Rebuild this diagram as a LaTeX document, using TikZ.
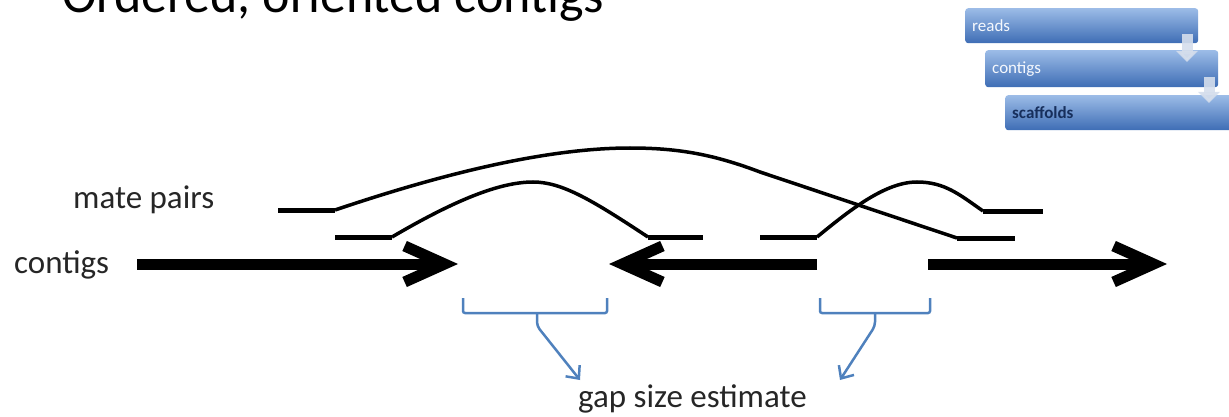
\documentclass[tikz,border=0pt]{standalone}
\usepackage{fontspec}
\setmainfont{Carlito}
\usetikzlibrary{arrows.meta}
\definecolor{gapblue}{HTML}{4F81BD}
\definecolor{boxtop}{HTML}{9CBCE7}
\definecolor{boxbot}{HTML}{3E6DB5}
\definecolor{navy}{HTML}{172F5C}
\definecolor{downarr}{HTML}{D5DEEC}
\begin{document}
\begin{tikzpicture}[x=1pt,y=-1pt,
  lbl/.style={font=\fontsize{33}{40}\selectfont, anchor=base west, inner sep=0pt, text=black!85},
  ttl/.style={font=\fontsize{52}{60}\selectfont, anchor=base west, inner sep=0pt},
  contig/.style={line width=11pt, -{Straight Barb[length=40pt,width=36pt]}},
  readseg/.style={line width=5pt},
  mate/.style={line width=3.5pt},
  gapbr/.style={draw=gapblue, line width=2.5pt, rounded corners=2pt},
  gaparr/.style={draw=gapblue, line width=2.5pt, rounded corners=4pt, -{Straight Barb[length=10pt,width=18pt]}},
  stepbox/.style={rounded corners=3pt, top color=boxtop, bottom color=boxbot, draw=none,
     anchor=north west, align=left, inner xsep=7pt, inner ysep=0pt,
     font=\fontsize{17}{20}\selectfont},
  downarrow/.style={draw=downarr, line width=11pt, opacity=0.9, -{Triangle[length=11pt,width=21pt]}}
]
\useasboundingbox (0,0) rectangle (1229,417);
\clip (0,0) rectangle (1229,417);

% title (cut at top)
\node[ttl] (dash) at (12,13) {–};
\node[ttl] (title) at (62,13) {Ordered, oriented contigs};

% labels
\node[lbl] (mplbl) at (73,208) {mate pairs};
\node[lbl] (ctlbl) at (14,273) {contigs};
\node[lbl] (gaplbl) at (578,407) {gap size estimate};

% contig arrows
\coordinate (c1s) at (137,264); \coordinate (c1e) at (458,264);
\coordinate (c2s) at (817,264); \coordinate (c2e) at (609,264);
\coordinate (c3s) at (928,264); \coordinate (c3e) at (1167,264);
\draw[contig] (c1s) -- (c1e);
\draw[contig] (c2s) -- (c2e);
\draw[contig] (c3s) -- (c3e);

% mate pair A (long)
\coordinate (a1) at (278,210); \coordinate (a2) at (335,210);
\coordinate (a3) at (957,238); \coordinate (a4) at (1015,238);
\draw[readseg] (a1) -- (a2);
\draw[readseg] (a3) -- (a4);
\draw[mate] (a2) .. controls (430,178) and (540,148) .. (630,148)
                 .. controls (680,148) and (715,155) .. (760,172) -- (a3);
% mate pair B
\coordinate (b1) at (335,237); \coordinate (b2) at (392,237);
\coordinate (b3) at (648,237); \coordinate (b4) at (703,237);
\draw[readseg] (b1) -- (b2);
\draw[readseg] (b3) -- (b4);
\draw[mate] (b2) .. controls (455,200) and (500,182) .. (533,182)
                 .. controls (562,182) and (592,200) .. (b3);
% mate pair C
\coordinate (m1) at (760,237); \coordinate (m2) at (817,237);
\coordinate (m3) at (983,211); \coordinate (m4) at (1043,211);
\draw[readseg] (m1) -- (m2);
\draw[readseg] (m3) -- (m4);
\draw[mate] (m2) .. controls (850,210) and (885,182) .. (917,182)
                 .. controls (945,182) and (960,195) .. (m3);

% gap brackets
\draw[gapbr] (463,298) -- (463,313) -- (607,313) -- (607,298);
\draw[gapbr] (820,298) -- (820,313) -- (930,313) -- (930,298);
\coordinate (g1s) at (537,313); \coordinate (g1e) at (580,380);
\coordinate (g2s) at (875,313); \coordinate (g2e) at (840,380);
\draw[gaparr] (g1s) -- (537,326) -- (g1e);
\draw[gaparr] (g2s) -- (875,326) -- (g2e);

% SmartArt-like steps
\node[stepbox, minimum width=233pt, minimum height=35pt, text width=219pt, text=white!90!boxtop] (reads) at (965,8) {reads};
\node[stepbox, minimum width=233pt, minimum height=37pt, text width=219pt, text=white!90!boxtop] (contigs) at (985,50) {contigs};
\node[stepbox, minimum width=240pt, minimum height=35pt, text width=226pt, text=navy, font=\fontsize{17}{20}\selectfont\bfseries] (scaff) at (1005,95) {scaffolds};
\coordinate (d1s) at (1187,34); \coordinate (d1e) at (1187,62);
\coordinate (d2s) at (1209,77); \coordinate (d2e) at (1209,103);
\draw[downarrow] (d1s) -- (d1e);
\draw[downarrow] (d2s) -- (d2e);
\end{tikzpicture}
\end{document}
